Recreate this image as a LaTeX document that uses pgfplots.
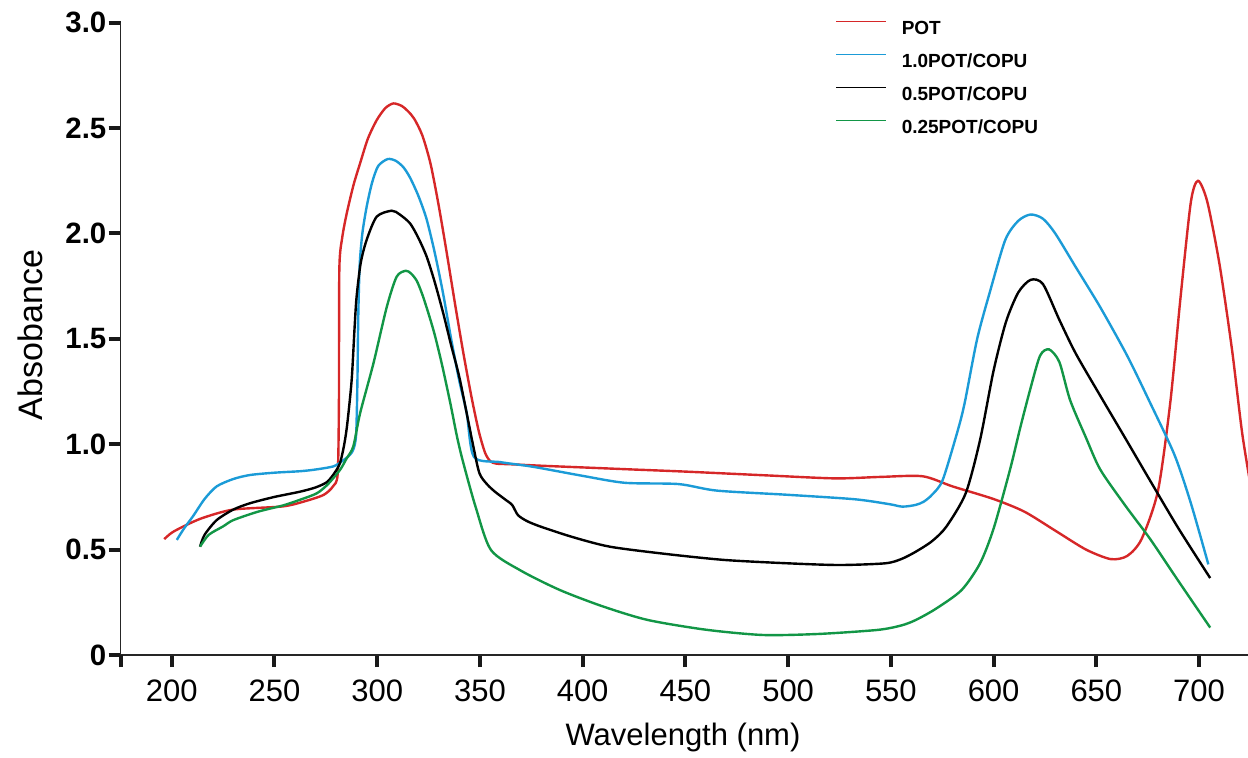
\documentclass[border=0pt]{standalone}
\usepackage{pgfplots}
\pgfplotsset{compat=1.18}
\usepackage{fontspec}
\setmainfont{Liberation Sans}
\definecolor{cred}{RGB}{214,39,40}
\definecolor{cblue}{RGB}{27,155,215}
\definecolor{cgreen}{RGB}{18,150,70}
\begin{document}
\begin{tikzpicture}
\begin{axis}[
  at={(0,0)}, anchor=south west,
  scale only axis, width=563.65pt, height=316.15pt,
  xmin=175.2, xmax=723.8, ymin=0, ymax=3,
  axis x line=bottom, axis y line=left,
  axis line style={-, line width=0.6pt, black!85},
  tick align=outside, major tick length=6pt,
  tick style={line width=2pt, black!90},
  xtick={200,250,300,350,400,450,500,550,600,650,700},
  xticklabels={200,250,300,350,400,450,500,550,600,650,700},
  extra x ticks={175.2}, extra x tick labels={},
  ytick={0,0.5,1,1.5,2,2.5,3},
  yticklabels={0,0.5,1.0,1.5,2.0,2.5,3.0},
  xticklabel style={font=\fontsize{15.5}{17}\selectfont, yshift=-3pt},
  yticklabel style={font=\fontsize{14.7}{17}\bfseries, inner sep=1pt},
  xlabel={Wavelength (nm)},
  ylabel={Absobance},
  xlabel style={font=\fontsize{15.5}{18}\selectfont, at={(axis description cs:0.4988,-0.1297)}, anchor=center},
  ylabel style={font=\fontsize{17}{20}\selectfont, at={(axis description cs:-0.0805,0.506)}, anchor=center},
  legend style={at={(axis description cs:0.6336,1.004)}, anchor=north west, draw=none, fill=none,
    font=\fontsize{9.5}{11}\bfseries, inner sep=0pt, row sep=8.5pt,
    nodes={inner sep=0pt, text height=7pt, text depth=1pt},
    /tikz/every odd column/.append style={column sep=7.5pt}},
  legend cell align=left,
  legend image code/.code={\draw[#1, line width=0.7pt] (0pt,3.5pt) -- (25pt,3.5pt);},
  every axis plot/.append style={line width=1.2pt, smooth, tension=0.45},
  clip=true,
]
\addplot[cred] coordinates {
(196.4,0.55) (200,0.58) (205.7,0.61) (215,0.65) (230,0.69) (254,0.705) (265,0.73) (274,0.76) (278.5,0.80) (280.8,0.86)
(281.4,1.2) (281.6,1.83) (283,1.98) (285.2,2.095) (288.5,2.23) (291.7,2.333) (295.5,2.45) (299.8,2.538) (304,2.595) (307.9,2.617) (312,2.605) (315,2.58)
(318,2.545) (322,2.465) (326,2.33) (330,2.13) (334,1.90) (338,1.66) (342,1.43) (346,1.22) (349.5,1.06) (352.5,0.96) (355,0.92) (358,0.908) (365,0.905)
(380,0.898) (400,0.89) (425,0.88) (450.4,0.87) (490,0.852) (523,0.838) (545,0.845) (565.5,0.848)
(580,0.80) (600,0.74) (615,0.68) (630,0.59) (645,0.50) (657,0.455) (665,0.47) (672,0.55) (680,0.78) (686,1.2)
(691,1.7) (696,2.15) (699.5,2.25) (704,2.15) (710,1.85) (716,1.45) (721,1.05) (726,0.75)
};
\addlegendentry{POT}
\addplot[cblue] coordinates {
(202.5,0.546) (206,0.60) (210.5,0.66) (216,0.74) (221.9,0.80) (230,0.835) (238.1,0.854) (250,0.865) (262.5,0.872)
(270,0.88) (278.7,0.895) (283,0.92) (286.8,0.95) (288.6,0.98) (289.8,1.05) (290.4,1.3) (290.8,1.6) (291.5,1.85)
(292.8,2.0) (294.9,2.127) (297.5,2.24) (300.5,2.32) (305.1,2.353) (309,2.345) (312.7,2.315) (316,2.265) (320,2.18)
(324,2.07) (328,1.91) (332,1.72) (336,1.50) (340,1.30) (343.6,1.147) (347.1,0.94) (360,0.915) (375.9,0.893) (400,0.85) (420.6,0.817) (446.7,0.811) (465.3,0.78)
(500,0.76) (532.4,0.739) (549.1,0.716) (555.6,0.704) (562,0.712) (565.9,0.727) (570,0.76) (575.2,0.83) (582.6,1.067)
(586,1.2) (592,1.5) (598.4,1.73) (605.7,1.97) (612,2.06) (618,2.09) (624,2.07) (630,2.0) (640,1.84) (651.9,1.65)
(665,1.42) (676,1.2) (688,0.95) (696,0.72) (704.5,0.43)
};
\addlegendentry{1.0POT/COPU}
\addplot[black] coordinates {
(213.8,0.514) (216,0.57) (221.9,0.64) (230,0.69) (238.1,0.72) (250,0.75) (262.5,0.775) (270,0.795) (275.5,0.82)
(279,0.86) (281.9,0.91) (284,1.0) (285.5,1.1) (287.6,1.305) (289,1.55) (290,1.70) (292,1.86) (294.9,1.97)
(299.8,2.08) (307.1,2.108) (311,2.09) (316,2.048) (320,1.98) (324.1,1.89) (328,1.77) (332.2,1.62) (336,1.47) (340.3,1.305) (346.8,0.99) (349.8,0.862)
(353.5,0.81) (357.3,0.775) (362,0.74) (365.7,0.712) (368.5,0.664) (373,0.635) (379.6,0.609) (395,0.56)
(413.2,0.514) (440,0.48) (469,0.451) (500,0.435) (525,0.427) (547.2,0.435) (555,0.455) (562.1,0.49) (570,0.54)
(577,0.609) (586.4,0.767) (593.4,1.02) (600,1.35) (606,1.58) (612,1.72) (618,1.78) (624,1.76) (632,1.59)
(640,1.43) (651.9,1.23) (664,1.03) (676,0.83) (690,0.6) (705.4,0.365)
};
\addlegendentry{0.5POT/COPU}
\addplot[cgreen] coordinates {
(213.8,0.514) (218,0.57) (225,0.61) (230,0.64) (242,0.68) (254.3,0.71) (262,0.735) (270.6,0.767) (276,0.81)
(281.9,0.878) (285,0.93) (288.4,0.99) (291.7,1.147) (298.2,1.384) (304.7,1.652) (309.5,1.795) (313.9,1.823)
(316.5,1.81) (319.3,1.775) (322,1.71) (325,1.62) (328,1.52) (331.5,1.38) (335.5,1.2) (339,1.03) (342,0.909) (348,0.70) (355.4,0.498) (370,0.40)
(389,0.308) (410,0.23) (431.8,0.166) (460,0.12) (487.7,0.095) (515,0.10) (543.5,0.119) (555,0.14) (562.1,0.166)
(572,0.22) (584.4,0.308) (593.4,0.435) (600,0.6) (608,0.88) (613,1.08) (617.8,1.26) (622.6,1.42) (627,1.45)
(632,1.39) (637.2,1.21) (645,1.03) (651.9,0.88) (664,0.71) (676.2,0.55) (690,0.35) (705.4,0.13)
};
\addlegendentry{0.25POT/COPU}
\end{axis}
\pgfresetboundingbox
\path[use as bounding box] (-60.35pt,-51pt) rectangle (563.65pt,327.5pt);
\end{tikzpicture}
\end{document}
